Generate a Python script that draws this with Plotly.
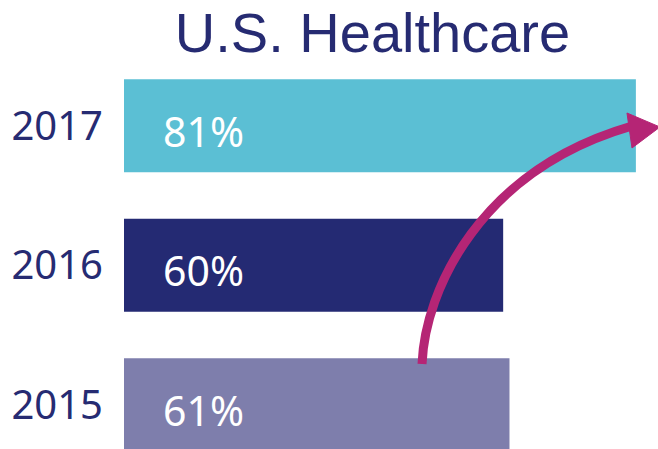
import plotly.graph_objects as go

# ---- data ----
years = ["2015", "2016", "2017"]
values = [61, 60, 81]
labels = ["61%", "60%", "81%"]
colors = ["#7E7EAC", "#242A73", "#5BBFD4"]
title_text = "U.S. Healthcare"

W, H = 658, 449
ML, MR, MT, MB = 124, 0, 56, 0
PW, PH = W - ML - MR, H - MT - MB
XMAX = 84.5

NAVY = "#262B72"
MAGENTA = "#B52575"


def px2paper(px, py):
    return (px - ML) / PW, (H - MB - py) / PH


fig = go.Figure()
fig.add_trace(go.Bar(
    y=years, x=values, orientation="h",
    marker=dict(color=colors, line=dict(width=0)),
    hoverinfo="skip", showlegend=False,
))

for i, lab in enumerate(labels):
    fig.add_annotation(
        x=0.148, xref="paper", y=i, yref="y", yshift=-5,
        text=lab, showarrow=False, xanchor="center", yanchor="middle",
        font=dict(family="Noto Sans", size=41, color="white"),
    )

# curved arrow (decoration)
p0 = px2paper(422, 364)
p1 = px2paper(425, 290)
p2 = px2paper(480, 170)
p3 = px2paper(632, 126)
path = "M {:.4f},{:.4f} C {:.4f},{:.4f} {:.4f},{:.4f} {:.4f},{:.4f}".format(*p0, *p1, *p2, *p3)
fig.add_shape(type="path", path=path, xref="paper", yref="paper",
              line=dict(color=MAGENTA, width=9), layer="above")
h1 = px2paper(627, 113)
h2 = px2paper(660, 127)
h3 = px2paper(632, 148)
head = "M {:.4f},{:.4f} L {:.4f},{:.4f} L {:.4f},{:.4f} Z".format(*h1, *h2, *h3)
fig.add_shape(type="path", path=head, xref="paper", yref="paper",
              fillcolor=MAGENTA, line=dict(color=MAGENTA, width=1), layer="above")

fig.update_layout(
    width=W, height=H,
    margin=dict(l=ML, r=MR, t=MT, b=MB, autoexpand=False),
    paper_bgcolor="white", plot_bgcolor="white",
    bargap=0.333,
    title=dict(text=title_text, x=372.5 / W, xanchor="center", xref="container",
               y=1 - 32 / H, yanchor="middle", yref="container", automargin=False,
               font=dict(family="Liberation Sans, Arial", size=56, color=NAVY)),
    xaxis=dict(range=[0, XMAX], visible=False, fixedrange=True, automargin=False),
    yaxis=dict(type="category", categoryorder="array", categoryarray=years,
               range=[-0.317, 2.5], showgrid=False, zeroline=False, showline=False,
               ticks="", ticklabelstandoff=20, automargin=False, fixedrange=True,
               tickfont=dict(family="Noto Sans", size=40, color=NAVY)),
)

fig.write_html("out.html", config={"displayModeBar": False},
               post_script="document.body.style.margin='0px';")
